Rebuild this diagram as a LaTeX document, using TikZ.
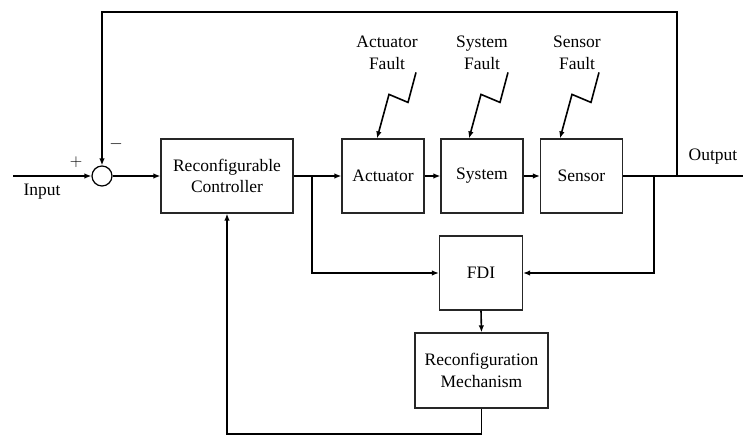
\documentclass[tikz,border=0pt]{standalone}
\usepackage{fontspec}
\setmainfont{Liberation Serif}
\usetikzlibrary{arrows.meta}

\tikzset{
  blk/.style={draw=black!85,line width=1.2pt,minimum width=82pt,minimum height=74pt,align=center,inner sep=0pt},
  sig/.style={line width=1.6pt,-{Latex[length=7pt,width=5.5pt]}},
  wire/.style={line width=1.6pt}
}

\begin{document}
\begin{tikzpicture}[x=1pt,y=-1pt,font=\fontsize{17.5}{21.5}\selectfont]
    \useasboundingbox (0,0) rectangle (743,436);

    % blocks
    \node[circle,draw,line width=1.2pt,minimum size=20pt,inner sep=0pt] (sum) at (102,176) {};
    \node[blk,minimum width=132pt] (ctrl) at (227,176) {Reconfigurable\\Controller};
    \node[blk] (act) at (383,176) {Actuator};
    \node[blk] (sys) at (482,176) {System};
    \node[blk] (sen) at (581.5,176) {Sensor};
    \node[blk,minimum width=83pt] (fdi) at (481,273) {FDI};
    \node[blk,minimum width=133pt,minimum height=75pt] (mech) at (481.5,370.5) {Reconfiguration\\Mechanism};

    % labels
    \node[font=\fontsize{19}{19}\selectfont] (plus) at (76,162) {$+$};
    \node[font=\fontsize{19}{19}\selectfont] (minus) at (116,144) {$-$};
    \node (inlbl) at (42,192) {Input};
    \node (outlbl) at (713,157) {Output};
    \node[align=center] (actlbl) at (387,53) {Actuator\\Fault};
    \node[align=center] (syslbl) at (482,53) {System\\Fault};
    \node[align=center] (senlbl) at (577,53) {Sensor\\Fault};

    \coordinate (inp) at (13,176);
    \coordinate (jc) at (312,176);
    \coordinate (js) at (654,176);
    \coordinate (fb) at (677,176);
    \coordinate (fbtop) at (677,12);
    \coordinate (outp) at (743,176);
    \coordinate (bot) at (227,434);

    % forward path
    \draw[sig] (inp) -- (sum.west);
    \draw[sig] (sum.east) -- (ctrl.west);
    \draw[sig] (ctrl.east) -- (act.west);
    \draw[sig] (act.east) -- (sys.west);
    \draw[sig] (sys.east) -- (sen.west);
    \draw[wire] (sen.east) -- (outp);

    % feedback and reconfiguration loop
    \draw[sig] (fb) -- (fbtop) -| (sum.north);
    \draw[sig] (jc) |- (fdi.west);
    \draw[sig] (js) |- (fdi.east);
    \draw[sig] (fdi.south) -- (mech.north);
    \draw[sig] (mech.south) |- (bot) -- (ctrl.south);

    % faults
    \foreach \b/\dx in {act/-6,sys/-13,sen/-21.5}{
      \coordinate (\b-tip) at ([xshift=\dx pt]\b.north);
      \draw[sig] ([shift={(39,-66)}]\b-tip) -- ++(-8,30) -- ++(-19,-8) -- (\b-tip);
    }
\end{tikzpicture}
\end{document}
